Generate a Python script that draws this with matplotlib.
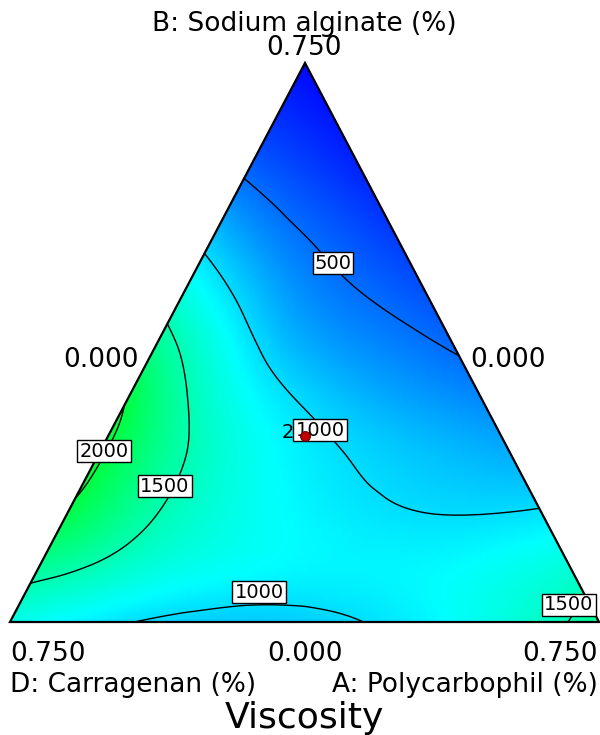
import numpy as np
import matplotlib
matplotlib.use("Agg")
import matplotlib.pyplot as plt
import matplotlib.tri as mtri
from matplotlib.colors import LinearSegmentedColormap
from matplotlib.patches import Polygon

# ---------------- data ----------------
# Predicted viscosity on a lattice of the mixture simplex (pseudo-fractions, step 0.1).
# Each list is one level of B (Sodium alginate); entries run from A = 0 (Polycarbophil) upward,
# D (Carragenan) = 1 - A - B.
visc_B00 = [1260, 1120, 1010, 940, 905, 930, 1000, 1100, 1230, 1390, 1660]
visc_B01 = [1620, 1470, 1300, 1200, 1140, 1110, 1110, 1140, 1210, 1320]
visc_B02 = [1965, 1650, 1400, 1230, 1115, 1040, 995, 985, 1010]
visc_B03 = [2040, 1660, 1360, 1150, 1020, 925, 850, 790]
visc_B04 = [1975, 1505, 1180, 970, 820, 710, 620]
visc_B05 = [1630, 1240, 900, 700, 580, 470]
visc_B06 = [1235, 900, 630, 480, 360]
visc_B07 = [840, 580, 410, 260]
visc_B08 = [480, 320, 170]
visc_B09 = [230, 100]
visc_B10 = [40]
visc_rows = [visc_B00, visc_B01, visc_B02, visc_B03, visc_B04, visc_B05,
             visc_B06, visc_B07, visc_B08, visc_B09, visc_B10]

contour_levels = [500, 1000, 1500, 2000]

# design point (centroid, 2 replicates)
design_A = [1 / 3]
design_B = [1 / 3]
design_D = [1 / 3]
design_reps = [2]

# axis texts
title_text = "Viscosity"
label_B = "B: Sodium alginate (%)"
label_D = "D: Carragenan (%)"
label_A = "A: Polycarbophil (%)"
tick_max = "0.750"
tick_min = "0.000"

# ---------------- layout ----------------
V_D = (10.0, 622.0)   # bottom-left vertex
V_A = (599.0, 622.0)  # bottom-right vertex
V_B = (305.0, 63.0)   # top vertex


def to_xy(a, b, d):
    a = np.asarray(a, float); b = np.asarray(b, float); d = np.asarray(d, float)
    x = a * V_A[0] + b * V_B[0] + d * V_D[0]
    y = a * V_A[1] + b * V_B[1] + d * V_D[1]
    return x, y


n = len(visc_rows) - 1
idx = {}
A, B, Z = [], [], []
for j, row in enumerate(visc_rows):
    for i, v in enumerate(row):
        idx[(i, j)] = len(A)
        A.append(i / n)
        B.append(j / n)
        Z.append(v)
A = np.array(A); B = np.array(B); Z = np.array(Z, float)
D = np.clip(1 - A - B, 0, 1)
X, Y = to_xy(A, B, D)

triangles = []
for j in range(n):
    for i in range(n - j):
        triangles.append([idx[(i, j)], idx[(i + 1, j)], idx[(i, j + 1)]])
        if i + j <= n - 2:
            triangles.append([idx[(i + 1, j)], idx[(i + 1, j + 1)], idx[(i, j + 1)]])

tri = mtri.Triangulation(X, Y, triangles)
interp = mtri.CubicTriInterpolator(tri, Z, kind="min_E")
refiner = mtri.UniformTriRefiner(tri)
tri_f, z_f = refiner.refine_field(Z, interp, subdiv=4)

cmap = LinearSegmentedColormap.from_list(
    "de", [(0.0, (0.0, 0.0, 1.0)), (0.5, (0.0, 1.0, 1.0)), (1.0, (0.0, 1.0, 0.0))])

fig = plt.figure(figsize=(6.0, 7.35), dpi=100)
ax = fig.add_axes([0, 0, 1, 1])
ax.set_xlim(0, 600)
ax.set_ylim(735, 0)
ax.axis("off")

ax.tripcolor(tri_f, z_f, shading="gouraud", cmap=cmap, vmin=0, vmax=2300, zorder=1)
ax.tricontour(tri_f, z_f, levels=contour_levels, colors="black", linewidths=1.0, zorder=2)

ax.add_patch(Polygon([V_D, V_A, V_B], closed=True, fill=False, ec="black", lw=1.6,
                     joinstyle="miter", zorder=3))

# contour labels (level values, placed where the reference shows them)
label_spots = [(500, 333, 263), (1000, 320, 430), (1000, 259, 592),
               (2000, 104, 451), (1500, 165, 486), (1500, 569, 605)]
for lev, lx, ly in label_spots:
    ax.text(lx, ly, f"{lev:d}", fontsize=14, ha="center", va="center", zorder=4,
            bbox=dict(boxstyle="square,pad=0.1", fc="white", ec="black", lw=1.0))

# design point
px, py = to_xy(design_A, design_B, design_D)
ax.plot(px, py, "o", ms=7, mfc="#c00000", mec="#600000", mew=0.8, zorder=6)
for x0, y0, r in zip(px, py, design_reps):
    ax.text(x0 - 11, y0 - 3, str(r), fontsize=14, ha="right", va="center", zorder=5)

fs = 19
ax.text(304, 31, label_B, fontsize=fs, ha="center", va="baseline")
ax.text(304, 55, tick_max, fontsize=fs, ha="center", va="baseline")
ax.text(101, 367, tick_min, fontsize=fs, ha="center", va="baseline")
ax.text(508, 367, tick_min, fontsize=fs, ha="center", va="baseline")
ax.text(10, 661, tick_max, fontsize=fs, ha="left", va="baseline")
ax.text(305, 661, tick_min, fontsize=fs, ha="center", va="baseline")
ax.text(598, 661, tick_max, fontsize=fs, ha="right", va="baseline")
ax.text(10, 692, label_D, fontsize=fs, ha="left", va="baseline")
ax.text(598, 692, label_A, fontsize=fs, ha="right", va="baseline")
ax.text(304, 728, title_text, fontsize=26, ha="center", va="baseline")

fig.savefig("out.png", dpi=100)
